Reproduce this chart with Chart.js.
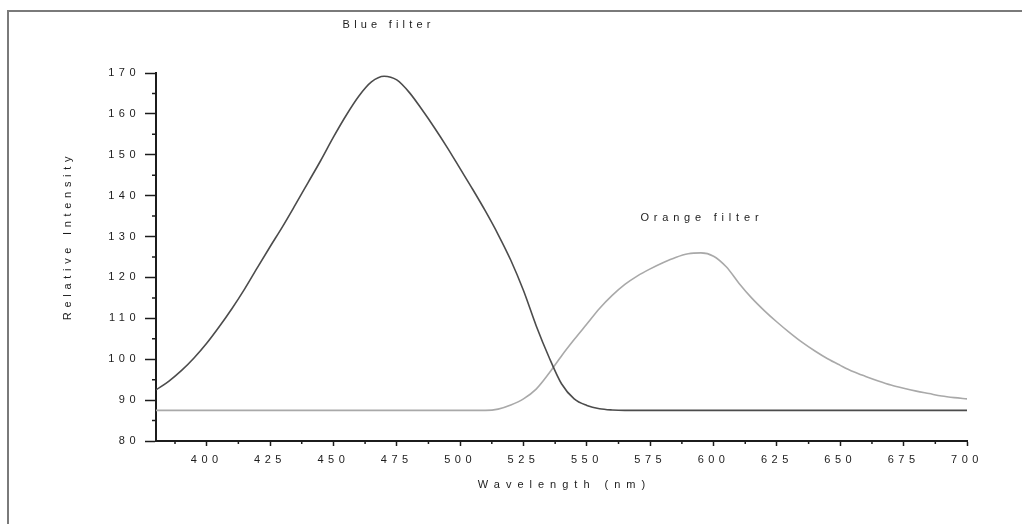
<!DOCTYPE html>
<html>
<head>
<meta charset="utf-8">
<title>Relative Intensity vs Wavelength</title>
<script src="https://cdn.jsdelivr.net/npm/chart.js@4.4.0/dist/chart.umd.min.js"></script>
<style>
  html, body { margin: 0; padding: 0; background: #fff; }
  #spectrum { display: block; }
</style>
</head>
<body>
<canvas id="spectrum" width="1022" height="524"></canvas>
<script>
// Emission spectra through the two filters, sampled every 5 nm
const wavelengths = [
    380, 385, 390, 395, 400, 405, 410, 415, 420, 425, 430, 435, 440,
    445, 450, 455, 460, 465, 470, 475, 480, 485, 490, 495, 500, 505,
    510, 515, 520, 525, 530, 535, 540, 545, 550, 555, 560, 565, 570,
    575, 580, 585, 590, 595, 600, 605, 610, 615, 620, 625, 630, 635,
    640, 645, 650, 655, 660, 665, 670, 675, 680, 685, 690, 695, 700
];
const blueFilter = [
    92.5, 94.6, 97.2, 100.3, 103.9, 108.0, 112.4, 117.2, 122.4, 127.5, 132.5, 137.8, 143.2,
    148.6, 154.3, 159.6, 164.3, 167.8, 169.2, 168.3, 165.2, 161.0, 156.5, 151.7, 146.6, 141.5,
    136.2, 130.5, 124.2, 116.8, 108.2, 100.6, 94.0, 90.3, 88.7, 87.9, 87.6, 87.5, 87.5,
    87.5, 87.5, 87.5, 87.5, 87.5, 87.5, 87.5, 87.5, 87.5, 87.5, 87.5, 87.5, 87.5,
    87.5, 87.5, 87.5, 87.5, 87.5, 87.5, 87.5, 87.5, 87.5, 87.5, 87.5, 87.5, 87.5
];
const orangeFilter = [
    87.5, 87.5, 87.5, 87.5, 87.5, 87.5, 87.5, 87.5, 87.5, 87.5, 87.5, 87.5, 87.5,
    87.5, 87.5, 87.5, 87.5, 87.5, 87.5, 87.5, 87.5, 87.5, 87.5, 87.5, 87.5, 87.5,
    87.5, 87.8, 88.8, 90.3, 92.7, 96.5, 100.8, 104.8, 108.6, 112.4, 115.6, 118.3, 120.4,
    122.1, 123.6, 124.9, 125.8, 126.0, 125.2, 122.6, 118.6, 115.0, 111.9, 109.1, 106.5, 104.1,
    102.0, 100.1, 98.5, 97.0, 95.8, 94.7, 93.7, 92.9, 92.2, 91.6, 91.0, 90.6, 90.3
];

const wavelengthTicks = [400, 425, 450, 475, 500, 525, 550, 575, 600, 625, 650, 675, 700];
const intensityTicks = [80, 90, 100, 110, 120, 130, 140, 150, 160, 170];

const FONT = '"Liberation Sans", Arial, sans-serif';
const INK = '#1c1c1c';

function toPoints(values) {
    return wavelengths.map((w, i) => ({ x: w, y: values[i] }));
}

// Wide letter spacing for every piece of text on the canvas
function spaceLetters(chart) {
    chart.ctx.letterSpacing = '4.5px';
}

const decorations = {
    id: 'decorations',
    beforeUpdate: spaceLetters,
    beforeLayout: spaceLetters,
    beforeDraw(chart) {
        const ctx = chart.ctx;
        ctx.save();
        ctx.fillStyle = '#fff';
        ctx.fillRect(0, 0, chart.width, chart.height);
        // page frame (top and left edges)
        ctx.strokeStyle = '#7a7a7a';
        ctx.lineWidth = 2;
        ctx.beginPath();
        ctx.moveTo(8, chart.height);
        ctx.lineTo(8, 11);
        ctx.lineTo(chart.width, 11);
        ctx.stroke();
        ctx.restore();
        spaceLetters(chart);
    },
    afterDraw(chart) {
        const ctx = chart.ctx;
        const xs = chart.scales.x;
        const ys = chart.scales.y;
        const area = chart.chartArea;
        ctx.save();
        ctx.strokeStyle = INK;
        ctx.lineWidth = 1.5;

        // minor ticks halfway between the labelled ones
        ctx.beginPath();
        for (let v = wavelengthTicks[0] - 12.5; v < xs.max; v += 25) {
            const px = xs.getPixelForValue(v);
            ctx.moveTo(px, area.bottom);
            ctx.lineTo(px, area.bottom + 3);
        }
        for (let v = intensityTicks[0] + 5; v < ys.max; v += 10) {
            const py = ys.getPixelForValue(v);
            ctx.moveTo(area.left, py);
            ctx.lineTo(area.left - 4, py);
        }
        ctx.stroke();

        ctx.fillStyle = INK;
        ctx.font = '11px ' + FONT;
        ctx.textAlign = 'center';
        ctx.textBaseline = 'middle';

        // axis titles
        ctx.letterSpacing = '6px';
        ctx.fillText('Wavelength (nm)', (area.left + area.right) / 2 + 3, area.bottom + 44);
        ctx.save();
        ctx.letterSpacing = '4.7px';
        ctx.translate(area.left - 88, (area.top + area.bottom) / 2 - 19);
        ctx.rotate(-Math.PI / 2);
        ctx.fillText('Relative Intensity', 2, 0);
        ctx.restore();

        // curve labels
        ctx.letterSpacing = '4.2px';
        ctx.fillText('Blue filter', xs.getPixelForValue(471) + 2, ys.getPixelForValue(181.7));
        ctx.letterSpacing = '4.8px';
        ctx.fillText('Orange filter', xs.getPixelForValue(594.6) + 2, ys.getPixelForValue(134.5));
        ctx.restore();
    }
};

new Chart(document.getElementById('spectrum'), {
    type: 'line',
    data: {
        datasets: [
            {
                label: 'Blue filter',
                data: toPoints(blueFilter),
                borderColor: '#4c4c4c',
                borderWidth: 1.6,
                pointRadius: 0,
                cubicInterpolationMode: 'monotone'
            },
            {
                label: 'Orange filter',
                data: toPoints(orangeFilter),
                borderColor: '#a9a9a9',
                borderWidth: 1.6,
                pointRadius: 0,
                cubicInterpolationMode: 'monotone'
            }
        ]
    },
    options: {
        responsive: false,
        animation: false,
        layout: { padding: { left: 0, top: 73, right: 55, bottom: 0 } },
        plugins: {
            legend: { display: false },
            tooltip: { enabled: false }
        },
        scales: {
            x: {
                type: 'linear',
                min: 380,
                max: 700,
                afterBuildTicks: scale => {
                    scale.ticks = wavelengthTicks.map(v => ({ value: v }));
                },
                afterFit: scale => { scale.height = 83; },
                border: { color: INK, width: 2 },
                grid: {
                    drawOnChartArea: false,
                    tickLength: 5,
                    tickColor: INK,
                    tickWidth: 1.5
                },
                ticks: {
                    color: INK,
                    padding: 7,
                    maxRotation: 0,
                    autoSkip: false,
                    font: { family: FONT, size: 11 }
                }
            },
            y: {
                min: 80,
                max: 170,
                afterBuildTicks: scale => {
                    scale.ticks = intensityTicks.map(v => ({ value: v }));
                },
                afterFit: scale => { scale.width = 156; },
                border: { color: INK, width: 2 },
                grid: {
                    drawOnChartArea: false,
                    tickLength: 11,
                    tickColor: INK,
                    tickWidth: 1.5
                },
                ticks: {
                    color: INK,
                    padding: 5,
                    autoSkip: false,
                    font: { family: FONT, size: 11 }
                }
            }
        }
    },
    plugins: [decorations]
});
</script>
</body>
</html>
